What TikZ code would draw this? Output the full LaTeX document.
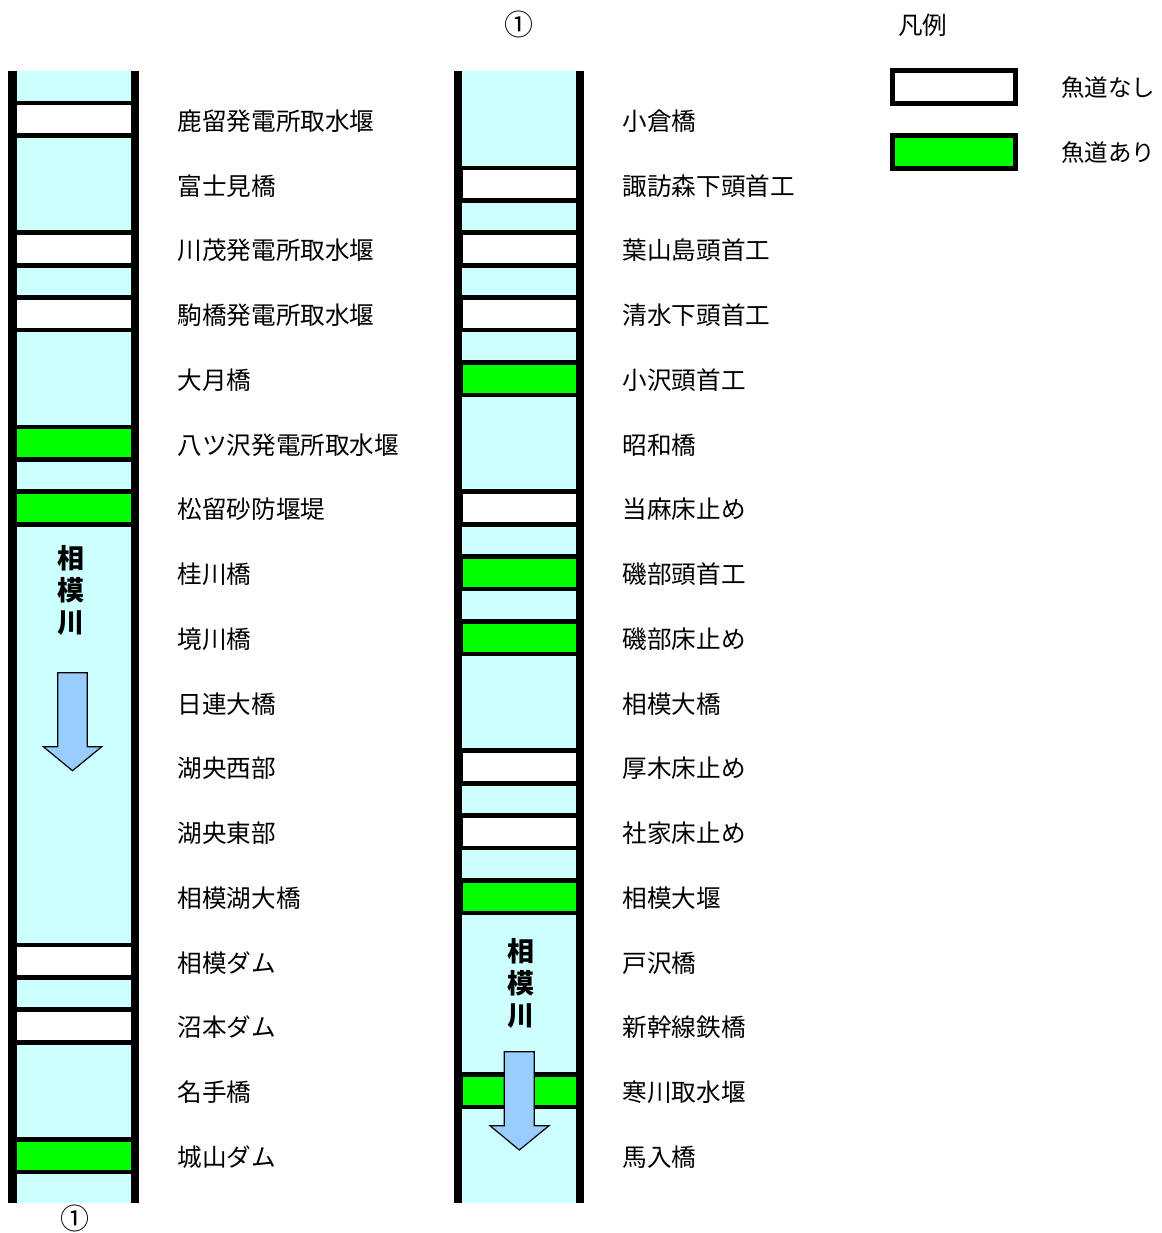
\documentclass[tikz,border=0pt]{standalone}
\usepackage{fontspec}
\setmainfont{Noto Sans CJK JP}
\definecolor{river}{HTML}{CCFFFF}
\definecolor{fishgreen}{HTML}{00FF00}
\definecolor{flowblue}{HTML}{99CCFF}
\tikzset{
  lbl/.style={anchor=west, inner sep=0pt, font=\fontsize{24.6}{28}\selectfont},
  riv/.style={inner sep=0pt, font=\fontsize{27}{30}\selectfont\bfseries},
  circ/.style={inner sep=0pt, font=\fontsize{29}{32}\selectfont},
  flow/.style={fill=flowblue, draw=black, line width=1.2pt, line join=miter},
}
\newcommand{\damrow}[4]{% xleft, xright, ycenter, fill colour
  \fill[black] (#1,#3-18.7) rectangle (#2,#3+18.7);
  \fill[#4] (#1+8.5,#3-14) rectangle (#2-8.5,#3+14);
}
\begin{document}
\begin{tikzpicture}[x=1pt,y=-1pt]
\useasboundingbox (0,0) rectangle (1161,1233);
\fill[white] (0,0) rectangle (1161,1233);
% ---------- left column ----------
\fill[black] (8,71) rectangle (139,1203);
\fill[river] (17,71) rectangle (131,1203);
\foreach \r/\c in {0/white,2/white,3/white,5/fishgreen,6/fishgreen,13/white,14/white,16/fishgreen}{
  \pgfmathsetmacro{\yc}{119.5+64.75*\r}
  \damrow{8}{139}{\yc}{\c}
}
% ---------- right column ----------
\fill[black] (454,71) rectangle (584,1203);
\fill[river] (462,71) rectangle (576,1203);
\foreach \r/\c in {1/white,2/white,3/white,4/fishgreen,6/white,7/fishgreen,8/fishgreen,10/white,11/white,12/fishgreen,15/fishgreen}{
  \pgfmathsetmacro{\yc}{119.5+64.75*\r}
  \damrow{454}{584}{\yc}{\c}
}
% ---------- river names ----------
\node[riv] (ra1) at (71,558) {相};
\node[riv] (ra2) at (71,590) {模};
\node[riv] (ra3) at (71,623) {川};
\node[riv] (rb1) at (521,951) {相};
\node[riv] (rb2) at (521,983) {模};
\node[riv] (rb3) at (521,1016) {川};
% ---------- flow arrows ----------
\draw[flow] (57.7,672.7) -- (87.3,672.7) -- (87.3,746.7) -- (101.7,746.7) -- (72.5,770.7) -- (43.3,746.7) -- (57.7,746.7) -- cycle;
\draw[flow] (504.3,1051.7) -- (534.3,1051.7) -- (534.3,1125.7) -- (549,1125.7) -- (519.3,1150) -- (490,1125.7) -- (504.3,1125.7) -- cycle;
% ---------- labels left ----------
\foreach \r/\t in {0/鹿留発電所取水堰,1/富士見橋,2/川茂発電所取水堰,3/駒橋発電所取水堰,4/大月橋,5/八ツ沢発電所取水堰,6/松留砂防堰堤,7/桂川橋,8/境川橋,9/日連大橋,10/湖央西部,11/湖央東部,12/相模湖大橋,13/相模ダム,14/沼本ダム,15/名手橋,16/城山ダム}{
  \node[lbl] (L\r) at (177.5,121+64.75*\r) {\t};
}
% ---------- labels right ----------
\foreach \r/\t in {0/小倉橋,1/諏訪森下頭首工,2/葉山島頭首工,3/清水下頭首工,4/小沢頭首工,5/昭和橋,6/当麻床止め,7/磯部頭首工,8/磯部床止め,9/相模大橋,10/厚木床止め,11/社家床止め,12/相模大堰,13/戸沢橋,14/新幹線鉄橋,15/寒川取水堰,16/馬入橋}{
  \node[lbl] (R\r) at (622.5,121+64.75*\r) {\t};
}
% ---------- continuation marks ----------
\node[circ] (c1) at (519,24) {①};
\node[circ] (c2) at (75,1218.5) {①};
% ---------- legend ----------
\node[lbl] (lg) at (898,25) {凡例};
\fill[black] (890,68) rectangle (1018,106);
\fill[white] (895,73) rectangle (1013,101);
\fill[black] (890,133) rectangle (1018,171);
\fill[fishgreen] (895,138) rectangle (1013,166);
\node[lbl, font=\fontsize{23.5}{28}\selectfont] (lg1) at (1061,88) {魚道なし};
\node[lbl, font=\fontsize{23.5}{28}\selectfont] (lg2) at (1061,153) {魚道あり};
\end{tikzpicture}
\end{document}
